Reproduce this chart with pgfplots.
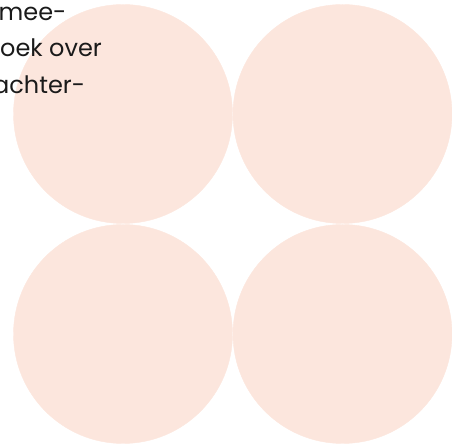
\documentclass[border=0pt]{standalone}
\usepackage{pgfplots}
\pgfplotsset{compat=1.18}
\usepackage{fontspec}
\setmainfont{Poppins}
\definecolor{peach}{HTML}{FCE6DD}
\definecolor{ink}{HTML}{1A1A1A}
\begin{document}
\begin{tikzpicture}
\clip (0,0) rectangle (452pt,446pt);
\begin{axis}[
  at={(0,0)}, anchor=south west,
  width=452pt, height=446pt, scale only axis,
  xmin=0, xmax=452, ymin=0, ymax=446,
  hide axis, clip=false,
]
\addplot[only marks, color=peach, mark=*, mark size=109.5pt, mark options={fill=peach, draw=peach}]
  coordinates {(123,332) (342.5,332) (123,112) (342.5,112)};
\end{axis}
\node[anchor=base west, inner sep=0pt, text=ink, font=\fontsize{24}{28}\selectfont] at (-1.5pt,425pt) {mee-};
\node[anchor=base west, inner sep=0pt, text=ink, font=\fontsize{24}{28}\selectfont] at (0pt,389pt) {oek over};
\node[anchor=base west, inner sep=0pt, text=ink, font=\fontsize{24}{28}\selectfont] at (-7pt,352pt) {achter-};
\end{tikzpicture}
\end{document}
